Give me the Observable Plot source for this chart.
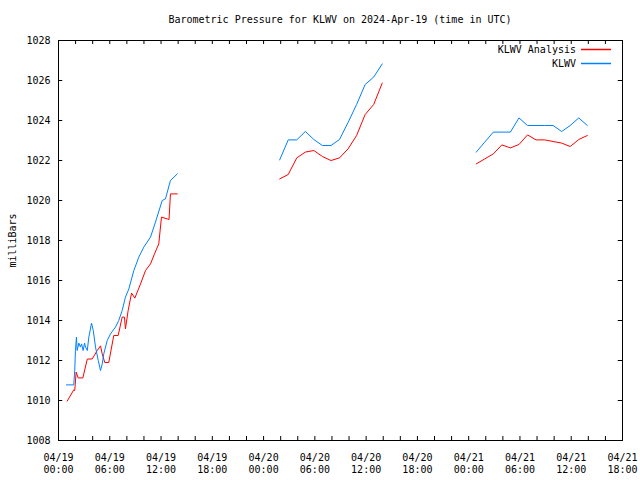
<!DOCTYPE html>
<html>
<head>
<meta charset="utf-8">
<script src="https://cdn.jsdelivr.net/npm/d3@7"></script>
<script src="https://cdn.jsdelivr.net/npm/@observablehq/plot@0.6"></script>
<style>
  html, body { margin: 0; padding: 0; background: #fff; }
  #wrap { position: relative; width: 640px; height: 480px; font-family: "DejaVu Sans Mono", "Liberation Mono", monospace; }
  #title { position: absolute; left: 0; width: 680px; top: 14px; text-align: center; font-size: 10px; color: #000; }
  #legend { position: absolute; right: 29px; top: 43px; font-size: 10px; line-height: 13.5px; color: #000; }
  #legend .row { display: flex; justify-content: flex-end; align-items: center; height: 13.5px; }
  #legend svg { margin-left: 5px; display: block; }
</style>
</head>
<body>
<div id="wrap">
  <div id="chart"></div>
  <div id="title"></div>
  <div id="legend"></div>
</div>
<script>
const title = "Barometric Pressure for KLWV on 2024-Apr-19 (time in UTC)";
const yLabel = "milliBars";
const seriesNames = ["KLWV Analysis", "KLWV"];
const seriesColors = ["#ff0000", "#0080ff"];
const xDomain = ["2024-04-19T00:00Z", "2024-04-21T18:00Z"];
const yDomain = [1008, 1028];
const yTicks = [1008, 1010, 1012, 1014, 1016, 1018, 1020, 1022, 1024, 1026, 1028];

// KLWV Analysis (red), three segments
const analysisSeg1 = [
  ["2024-04-19T01:01Z", 1009.97], ["2024-04-19T01:47Z", 1010.53], ["2024-04-19T01:54Z", 1010.5],
  ["2024-04-19T02:04Z", 1011.42], ["2024-04-19T02:18Z", 1011.13], ["2024-04-19T02:51Z", 1011.13],
  ["2024-04-19T03:22Z", 1012.07], ["2024-04-19T03:57Z", 1012.08], ["2024-04-19T04:32Z", 1012.5],
  ["2024-04-19T04:55Z", 1012.73], ["2024-04-19T05:07Z", 1012.33], ["2024-04-19T05:25Z", 1011.9],
  ["2024-04-19T05:53Z", 1011.9], ["2024-04-19T06:28Z", 1013.25], ["2024-04-19T06:59Z", 1013.25],
  ["2024-04-19T07:27Z", 1014.17], ["2024-04-19T07:43Z", 1014.17], ["2024-04-19T07:50Z", 1013.58],
  ["2024-04-19T08:09Z", 1014.5], ["2024-04-19T08:33Z", 1015.37], ["2024-04-19T08:56Z", 1015.12],
  ["2024-04-19T09:36Z", 1015.83], ["2024-04-19T10:11Z", 1016.5], ["2024-04-19T10:46Z", 1016.83],
  ["2024-04-19T11:14Z", 1017.33], ["2024-04-19T11:44Z", 1017.83], ["2024-04-19T12:03Z", 1019.17],
  ["2024-04-19T12:43Z", 1019.08], ["2024-04-19T12:56Z", 1019.05], ["2024-04-19T13:06Z", 1020.33],
  ["2024-04-19T13:54Z", 1020.33]
];
const analysisSeg2 = [
  ["2024-04-20T01:53Z", 1021.08], ["2024-04-20T02:53Z", 1021.3], ["2024-04-20T03:53Z", 1022.13],
  ["2024-04-20T04:53Z", 1022.42], ["2024-04-20T05:53Z", 1022.5], ["2024-04-20T06:53Z", 1022.2],
  ["2024-04-20T07:53Z", 1022.0], ["2024-04-20T08:53Z", 1022.13], ["2024-04-20T09:53Z", 1022.58],
  ["2024-04-20T10:53Z", 1023.25], ["2024-04-20T11:53Z", 1024.3], ["2024-04-20T12:53Z", 1024.8],
  ["2024-04-20T13:53Z", 1025.87]
];
const analysisSeg3 = [
  ["2024-04-21T00:53Z", 1021.83], ["2024-04-21T01:53Z", 1022.08], ["2024-04-21T02:53Z", 1022.33],
  ["2024-04-21T03:53Z", 1022.78], ["2024-04-21T04:53Z", 1022.63], ["2024-04-21T05:53Z", 1022.8],
  ["2024-04-21T06:53Z", 1023.28], ["2024-04-21T07:53Z", 1023.03], ["2024-04-21T08:53Z", 1023.03],
  ["2024-04-21T09:53Z", 1022.95], ["2024-04-21T10:53Z", 1022.87], ["2024-04-21T11:53Z", 1022.7],
  ["2024-04-21T12:53Z", 1023.05], ["2024-04-21T13:53Z", 1023.25]
];

// KLWV (blue), three segments
const obsSeg1 = [
  ["2024-04-19T00:56Z", 1010.78], ["2024-04-19T01:47Z", 1010.78], ["2024-04-19T01:54Z", 1011.5],
  ["2024-04-19T01:59Z", 1012.5], ["2024-04-19T02:06Z", 1013.17], ["2024-04-19T02:11Z", 1012.5],
  ["2024-04-19T02:23Z", 1012.87], ["2024-04-19T02:34Z", 1012.67], ["2024-04-19T02:42Z", 1012.83],
  ["2024-04-19T02:53Z", 1012.5], ["2024-04-19T03:03Z", 1012.87], ["2024-04-19T03:10Z", 1012.67],
  ["2024-04-19T03:22Z", 1012.5], ["2024-04-19T03:33Z", 1013.17], ["2024-04-19T03:52Z", 1013.87],
  ["2024-04-19T04:04Z", 1013.5], ["2024-04-19T04:20Z", 1012.67], ["2024-04-19T04:39Z", 1012.0],
  ["2024-04-19T04:55Z", 1011.5], ["2024-04-19T05:07Z", 1011.83], ["2024-04-19T05:18Z", 1012.33],
  ["2024-04-19T05:42Z", 1013.0], ["2024-04-19T06:05Z", 1013.33], ["2024-04-19T06:40Z", 1013.67],
  ["2024-04-19T07:03Z", 1014.0], ["2024-04-19T07:27Z", 1014.5], ["2024-04-19T07:50Z", 1015.17],
  ["2024-04-19T08:14Z", 1015.58], ["2024-04-19T08:49Z", 1016.5], ["2024-04-19T09:24Z", 1017.17],
  ["2024-04-19T09:59Z", 1017.67], ["2024-04-19T10:46Z", 1018.17], ["2024-04-19T11:21Z", 1018.92],
  ["2024-04-19T12:08Z", 1020.0], ["2024-04-19T12:31Z", 1020.08], ["2024-04-19T13:06Z", 1021.0],
  ["2024-04-19T13:54Z", 1021.33]
];
const obsSeg2 = [
  ["2024-04-20T01:53Z", 1022.03], ["2024-04-20T02:53Z", 1023.03], ["2024-04-20T03:53Z", 1023.03],
  ["2024-04-20T04:53Z", 1023.45], ["2024-04-20T05:53Z", 1023.05], ["2024-04-20T06:53Z", 1022.75],
  ["2024-04-20T07:53Z", 1022.75], ["2024-04-20T08:53Z", 1023.05], ["2024-04-20T09:53Z", 1023.9],
  ["2024-04-20T10:53Z", 1024.8], ["2024-04-20T11:53Z", 1025.8], ["2024-04-20T12:53Z", 1026.17],
  ["2024-04-20T13:53Z", 1026.83]
];
const obsSeg3 = [
  ["2024-04-21T00:53Z", 1022.42], ["2024-04-21T01:53Z", 1022.92], ["2024-04-21T02:53Z", 1023.42],
  ["2024-04-21T03:53Z", 1023.42], ["2024-04-21T04:53Z", 1023.42], ["2024-04-21T05:53Z", 1024.13],
  ["2024-04-21T06:53Z", 1023.75], ["2024-04-21T07:53Z", 1023.75], ["2024-04-21T08:53Z", 1023.75],
  ["2024-04-21T09:53Z", 1023.75], ["2024-04-21T10:53Z", 1023.45], ["2024-04-21T11:53Z", 1023.75],
  ["2024-04-21T12:53Z", 1024.13], ["2024-04-21T13:53Z", 1023.75]
];

function rows(segs, series) {
  const out = [];
  segs.forEach((seg, i) => seg.forEach(([t, v]) => out.push({t: new Date(t), v, series, seg: series + i})));
  return out;
}
const analysis = rows([analysisSeg1, analysisSeg2, analysisSeg3], seriesNames[0]);
const obs = rows([obsSeg1, obsSeg2, obsSeg3], seriesNames[1]);

const x0 = new Date(xDomain[0]), x1 = new Date(xDomain[1]);
const minorX = d3.utcHour.every(2).range(x0, new Date(+x1 + 1));
const majorX = d3.utcHour.every(6).range(x0, new Date(+x1 + 1));
const tickLenY = 0.2;               // in mb (about 4px)
const tickLenX = 2 * 3600 * 1000 * 0.25; // about 4px in time

const font = '"DejaVu Sans Mono", "Liberation Mono", monospace';

const chart = Plot.plot({
  width: 640,
  height: 480,
  marginLeft: 58,
  marginRight: 18,
  marginTop: 40,
  marginBottom: 40,
  style: {fontFamily: font, fontSize: "10px", color: "#000", background: "#fff", overflow: "visible"},
  x: {type: "utc", domain: [x0, x1]},
  y: {domain: yDomain},
  marks: [
    Plot.ruleX(minorX, {x: d => d, y1: yDomain[0], y2: yDomain[0] + tickLenY, stroke: "#000"}),
    Plot.ruleX(minorX, {x: d => d, y1: yDomain[1], y2: yDomain[1] - tickLenY, stroke: "#000"}),
    Plot.ruleY(yTicks, {y: d => d, x1: x0, x2: new Date(+x0 + tickLenX), stroke: "#000"}),
    Plot.ruleY(yTicks, {y: d => d, x1: x1, x2: new Date(+x1 - tickLenX), stroke: "#000"}),
    Plot.axisX({ticks: majorX, tickSize: 0, tickPadding: 12, tickFormat: d3.utcFormat("%m/%d\n%H:%M"), label: null, fontSize: 10, lineHeight: 1.2}),
    Plot.axisY({ticks: yTicks, tickSize: 0, tickPadding: 8, tickFormat: d => String(d), label: yLabel, labelAnchor: "center", labelOffset: 50, labelArrow: "none", fontSize: 10}),
    Plot.line(analysis, {x: "t", y: "v", z: "seg", stroke: seriesColors[0], strokeWidth: 1, curve: "linear"}),
    Plot.line(obs, {x: "t", y: "v", z: "seg", stroke: seriesColors[1], strokeWidth: 1, curve: "linear"}),
    Plot.frame({stroke: "#000"})
  ]
});
document.getElementById("chart").appendChild(chart);
document.getElementById("title").textContent = title;
const legend = document.getElementById("legend");
const svgNS = "http://www.w3.org/2000/svg";
seriesNames.forEach((n, i) => {
  const row = document.createElement("div");
  row.className = "row";
  const s = document.createElement("span"); s.textContent = n;
  const sw = document.createElementNS(svgNS, "svg");
  sw.setAttribute("width", "30"); sw.setAttribute("height", "3");
  const ln = document.createElementNS(svgNS, "line");
  ln.setAttribute("x1", "0"); ln.setAttribute("x2", "30");
  ln.setAttribute("y1", "1.5"); ln.setAttribute("y2", "1.5");
  ln.setAttribute("stroke", seriesColors[i]); ln.setAttribute("stroke-width", "1.5");
  sw.appendChild(ln);
  row.appendChild(s); row.appendChild(sw);
  legend.appendChild(row);
});
</script>
</body>
</html>
